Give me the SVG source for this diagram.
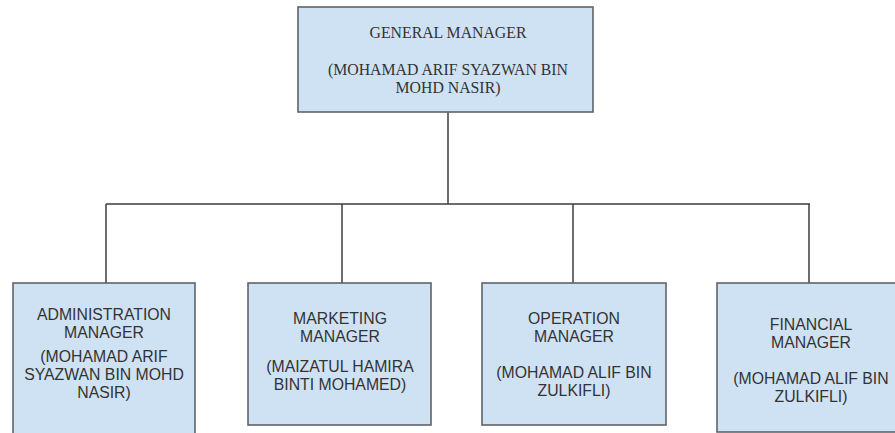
<svg xmlns="http://www.w3.org/2000/svg" width="895" height="433" viewBox="0 0 895 433">
  <style>
    .box { fill: #cfe2f3; stroke: #5f6368; stroke-width: 1.6; }
    .wire { fill: none; stroke: #3c3c3c; stroke-width: 1.5; }
    .serif { font-family: "Liberation Serif", "Times New Roman", serif; font-size: 15.8px; fill: #333; text-anchor: middle; }
    .sans { font-family: "Liberation Sans", Arial, sans-serif; font-size: 15.8px; fill: #333; text-anchor: middle; }
  </style>
  <rect width="895" height="433" fill="#ffffff"/>

  <!-- connectors -->
  <g id="connectors">
    <path class="wire" d="M448 112 V204"/>
    <path class="wire" d="M106 204 H810"/>
    <path class="wire" d="M106 204 V283"/>
    <path class="wire" d="M342 204 V283"/>
    <path class="wire" d="M573 204 V283"/>
    <path class="wire" d="M809 204 V283"/>
  </g>

  <g id="general-manager">
    <rect class="box" x="298" y="7" width="295" height="105"/>
    <text class="serif" x="448" y="38">GENERAL MANAGER</text>
    <text class="serif" x="448" y="75">(MOHAMAD ARIF SYAZWAN BIN</text>
    <text class="serif" x="448" y="93">MOHD NASIR)</text>
  </g>

  <g id="administration-manager">
    <rect class="box" x="13" y="283" width="182" height="152"/>
    <text class="sans" x="104" y="320">ADMINISTRATION</text>
    <text class="sans" x="104" y="338">MANAGER</text>
    <text class="sans" x="104" y="362">(MOHAMAD ARIF</text>
    <text class="sans" x="104" y="380">SYAZWAN BIN MOHD</text>
    <text class="sans" x="104" y="398">NASIR)</text>
  </g>

  <g id="marketing-manager">
    <rect class="box" x="248" y="283" width="183" height="142"/>
    <text class="sans" x="340" y="324">MARKETING</text>
    <text class="sans" x="340" y="342">MANAGER</text>
    <text class="sans" x="340" y="372">(MAIZATUL HAMIRA</text>
    <text class="sans" x="340" y="390">BINTI MOHAMED)</text>
  </g>

  <g id="operation-manager">
    <rect class="box" x="482" y="283" width="184" height="142"/>
    <text class="sans" x="574" y="324">OPERATION</text>
    <text class="sans" x="574" y="342">MANAGER</text>
    <text class="sans" x="574" y="378">(MOHAMAD ALIF BIN</text>
    <text class="sans" x="574" y="396">ZULKIFLI)</text>
  </g>

  <g id="financial-manager">
    <rect class="box" x="717" y="283" width="188" height="149"/>
    <text class="sans" x="811" y="330">FINANCIAL</text>
    <text class="sans" x="811" y="348">MANAGER</text>
    <text class="sans" x="811" y="384">(MOHAMAD ALIF BIN</text>
    <text class="sans" x="811" y="402">ZULKIFLI)</text>
  </g>
</svg>
